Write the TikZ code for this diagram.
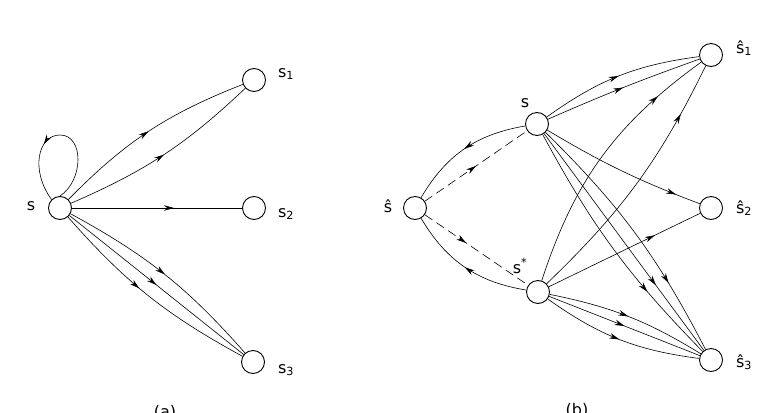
\documentclass[tikz,border=0pt]{standalone}
\usepackage{fontspec}
\setmainfont{DejaVu Sans}
\usetikzlibrary{decorations.markings,arrows.meta}
\begin{document}
\begin{tikzpicture}[x=1pt,y=-1pt,
  st/.style={circle,draw,line width=0.9pt,minimum size=23pt,inner sep=0pt},
  lab/.style={font=\fontsize{16}{16}\selectfont,inner sep=1pt},
  e/.style={line width=0.6pt,postaction={decorate},decoration={markings,mark=at position #1 with {\arrow{Stealth[length=10pt,width=5.5pt]}}}},
  e/.default=0.5,
  d/.style={e=#1,dash pattern=on 9pt off 5pt},
  d/.default=0.5]
\useasboundingbox (0,0) rectangle (778,412);
% (a)
\node[st] (s) at (60,208) {};
\node[st] (s1) at (254,80) {};
\node[st] (s2) at (254,208) {};
\node[st] (s3) at (253,362) {};
\node[lab] (ls) at (31,206) {s};
\node[lab] (ls1) at (286,74) {s\textsubscript{1}};
\node[lab] (ls2) at (286,214) {s\textsubscript{2}};
\node[lab] (ls3) at (286,370) {s\textsubscript{3}};
\draw[e=0.62] (s.north) .. controls (84,180) and (84,135) .. (60,135) .. controls (38,135) and (30,170) .. (s.north west);
\draw[e] (s) to[bend left=12] (s1);
\draw[e] (s) to[bend right=10] (s1);
\draw[e=0.6] (s) -- (s2);
\draw[e=0.5] (s) to[bend left=10] (s3);
\draw[e=0.5] (s) -- (s3);
\draw[e=0.45] (s) to[bend right=10] (s3);
\node[lab] (la) at (165,412) {(a)};
% (b)
\node[st] (h) at (415,208) {};
\node[st] (t) at (537,124) {};
\node[st] (u) at (538,292) {};
\node[st] (h1) at (711,55) {};
\node[st] (h2) at (711,208) {};
\node[st] (h3) at (711,360) {};
\node[lab] (lh) at (388,206) {ŝ};
\node[lab] (lt) at (525,103) {s};
\node[lab] (lu) at (520,266) {s\textsuperscript{*}};
\node[lab] (lh1) at (744,48) {ŝ\textsubscript{1}};
\node[lab] (lh2) at (744,208) {ŝ\textsubscript{2}};
\node[lab] (lh3) at (744,362) {ŝ\textsubscript{3}};
\draw[e] (t) to[bend left=14] (h1);
\draw[e] (t) to[bend left=2] (h1);
\draw[e=0.85] (t) to[bend right=5] (h2);
\draw[e=0.7] (t) to[bend right=8] (h3);
\draw[e=0.7] (t) -- (h3);
\draw[e=0.72] (t) to[bend left=9] (h3);
\draw[e=0.5] (t) to[bend right=25] (h);
\draw[d=0.5] (h) -- (t);
\draw[d=0.4] (h) -- (u);
\draw[e=0.5] (u) to[bend left=25] (h);
\draw[e=0.8] (u) to[bend left=18] (h1);
\draw[e=0.8] (u) to[bend right=10] (h1);
\draw[e=0.7] (u) -- (h2);
\draw[e=0.5] (u) to[bend left=10] (h3);
\draw[e=0.5] (u) -- (h3);
\draw[e=0.5] (u) to[bend right=14] (h3);
\node[lab] (lb) at (577,410) {(b)};
\end{tikzpicture}
\end{document}
